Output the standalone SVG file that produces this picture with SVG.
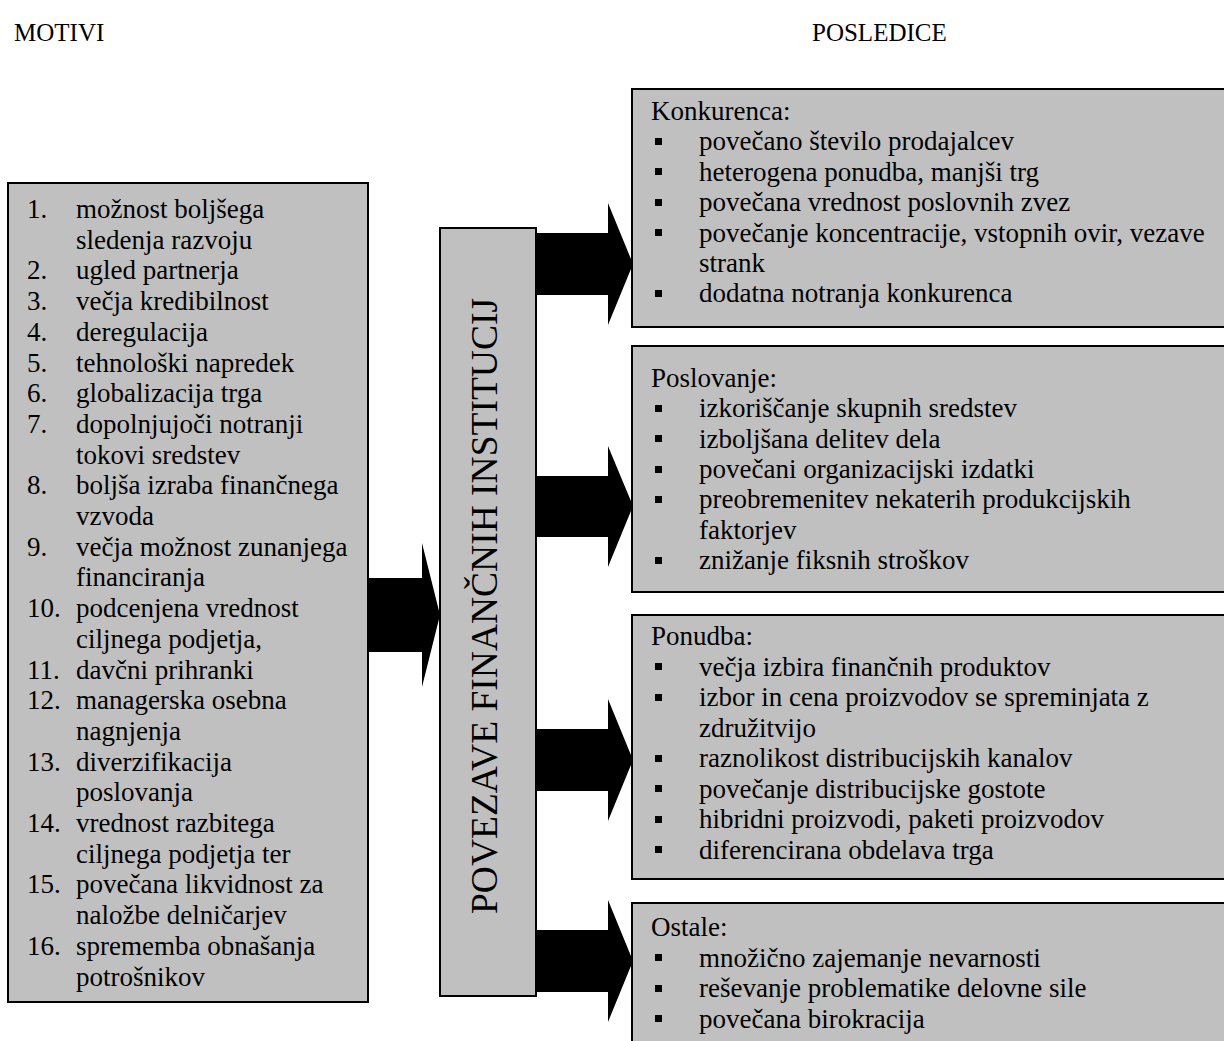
<svg xmlns="http://www.w3.org/2000/svg" width="1224" height="1041" viewBox="0 0 1224 1041">
<style>
.box{fill:#c0c0c0;stroke:#000;stroke-width:2}
.t{font-family:"Liberation Serif","Times New Roman",serif;font-size:27px;fill:#000}
.h{font-family:"Liberation Serif","Times New Roman",serif;font-size:25px;fill:#000}
.v{font-family:"Liberation Serif","Times New Roman",serif;font-size:37.5px;fill:#000}
.arr{fill:#000}
.b{fill:#000}
</style>
<rect width="1224" height="1041" fill="#fff"/>
<text class="h" x="14" y="41">MOTIVI</text>
<text class="h" x="812" y="41">POSLEDICE</text>

<g id="connectors">
<polygon class="arr" points="368,578 422,578 422,543 440,615 422,687 422,652 368,652"/>
<polygon class="arr" points="536,233 608,233 608,203 633,264 608,325 608,295 536,295"/>
<polygon class="arr" points="536,476 608,476 608,446 633,506 608,567 608,537 536,537"/>
<polygon class="arr" points="536,729 608,729 608,699 633,760 608,821 608,791 536,791"/>
<polygon class="arr" points="536,930 608,930 608,900 633,961 608,1022 608,992 536,992"/>
</g>

<g id="motivi">
<rect class="box" x="8" y="183" width="360" height="819"/>
<g class="t">
<text x="27" y="218">1.</text><text x="76" y="218">možnost boljšega</text>
<text x="76" y="248.7">sledenja razvoju</text>
<text x="27" y="279.4">2.</text><text x="76" y="279.4">ugled partnerja</text>
<text x="27" y="310.1">3.</text><text x="76" y="310.1">večja kredibilnost</text>
<text x="27" y="340.8">4.</text><text x="76" y="340.8">deregulacija</text>
<text x="27" y="371.5">5.</text><text x="76" y="371.5">tehnološki napredek</text>
<text x="27" y="402.2">6.</text><text x="76" y="402.2">globalizacija trga</text>
<text x="27" y="432.9">7.</text><text x="76" y="432.9">dopolnjujoči notranji</text>
<text x="76" y="463.6">tokovi sredstev</text>
<text x="27" y="494.3">8.</text><text x="76" y="494.3">boljša izraba finančnega</text>
<text x="76" y="525">vzvoda</text>
<text x="27" y="555.7">9.</text><text x="76" y="555.7">večja možnost zunanjega</text>
<text x="76" y="586.4">financiranja</text>
<text x="27" y="617.1">10.</text><text x="76" y="617.1">podcenjena vrednost</text>
<text x="76" y="647.8">ciljnega podjetja,</text>
<text x="27" y="678.5">11.</text><text x="76" y="678.5">davčni prihranki</text>
<text x="27" y="709.2">12.</text><text x="76" y="709.2">managerska osebna</text>
<text x="76" y="739.9">nagnjenja</text>
<text x="27" y="770.6">13.</text><text x="76" y="770.6">diverzifikacija</text>
<text x="76" y="801.3">poslovanja</text>
<text x="27" y="832">14.</text><text x="76" y="832">vrednost razbitega</text>
<text x="76" y="862.7">ciljnega podjetja ter</text>
<text x="27" y="893.4">15.</text><text x="76" y="893.4">povečana likvidnost za</text>
<text x="76" y="924.1">naložbe delničarjev</text>
<text x="27" y="954.8">16.</text><text x="76" y="954.8">sprememba obnašanja</text>
<text x="76" y="985.5">potrošnikov</text>
</g>
</g>

<g id="povezave">
<rect class="box" x="440" y="228" width="96" height="768"/>
<text class="v" transform="translate(497,606) rotate(-90)" text-anchor="middle">POVEZAVE FINANČNIH INSTITUCIJ</text>
</g>

<g id="konkurenca">
<rect class="box" x="632" y="89" width="600" height="238"/>
<g class="t">
<text x="651" y="120">Konkurenca:</text>
<text x="699" y="150.4">povečano število prodajalcev</text>
<text x="699" y="180.8">heterogena ponudba, manjši trg</text>
<text x="699" y="211.2">povečana vrednost poslovnih zvez</text>
<text x="699" y="241.6">povečanje koncentracije, vstopnih ovir, vezave</text>
<text x="699" y="272">strank</text>
<text x="699" y="302.4">dodatna notranja konkurenca</text>
</g>
<rect class="b" x="655" y="138" width="7" height="7"/>
<rect class="b" x="655" y="168" width="7" height="7"/>
<rect class="b" x="655" y="199" width="7" height="7"/>
<rect class="b" x="655" y="229" width="7" height="7"/>
<rect class="b" x="655" y="290" width="7" height="7"/>
</g>

<g id="poslovanje">
<rect class="box" x="632" y="346" width="600" height="246"/>
<g class="t">
<text x="651" y="387">Poslovanje:</text>
<text x="699" y="417.3">izkoriščanje skupnih sredstev</text>
<text x="699" y="447.6">izboljšana delitev dela</text>
<text x="699" y="477.9">povečani organizacijski izdatki</text>
<text x="699" y="508.2">preobremenitev nekaterih produkcijskih</text>
<text x="699" y="538.5">faktorjev</text>
<text x="699" y="568.8">znižanje fiksnih stroškov</text>
</g>
<rect class="b" x="655" y="405" width="7" height="7"/>
<rect class="b" x="655" y="435" width="7" height="7"/>
<rect class="b" x="655" y="466" width="7" height="7"/>
<rect class="b" x="655" y="496" width="7" height="7"/>
<rect class="b" x="655" y="557" width="7" height="7"/>
</g>

<g id="ponudba">
<rect class="box" x="632" y="615" width="600" height="264"/>
<g class="t">
<text x="651" y="645">Ponudba:</text>
<text x="699" y="675.5">večja izbira finančnih produktov</text>
<text x="699" y="706">izbor in cena proizvodov se spreminjata z</text>
<text x="699" y="736.5">združitvijo</text>
<text x="699" y="767">raznolikost distribucijskih kanalov</text>
<text x="699" y="797.5">povečanje distribucijske gostote</text>
<text x="699" y="828">hibridni proizvodi, paketi proizvodov</text>
<text x="699" y="858.5">diferencirana obdelava trga</text>
</g>
<rect class="b" x="655" y="663" width="7" height="7"/>
<rect class="b" x="655" y="694" width="7" height="7"/>
<rect class="b" x="655" y="755" width="7" height="7"/>
<rect class="b" x="655" y="785" width="7" height="7"/>
<rect class="b" x="655" y="816" width="7" height="7"/>
<rect class="b" x="655" y="846" width="7" height="7"/>
</g>

<g id="ostale">
<rect class="box" x="632" y="903" width="600" height="200"/>
<g class="t">
<text x="651" y="936">Ostale:</text>
<text x="699" y="966.5">množično zajemanje nevarnosti</text>
<text x="699" y="997">reševanje problematike delovne sile</text>
<text x="699" y="1027.5">povečana birokracija</text>
</g>
<rect class="b" x="655" y="954" width="7" height="7"/>
<rect class="b" x="655" y="985" width="7" height="7"/>
<rect class="b" x="655" y="1015" width="7" height="7"/>
</g>
</svg>
